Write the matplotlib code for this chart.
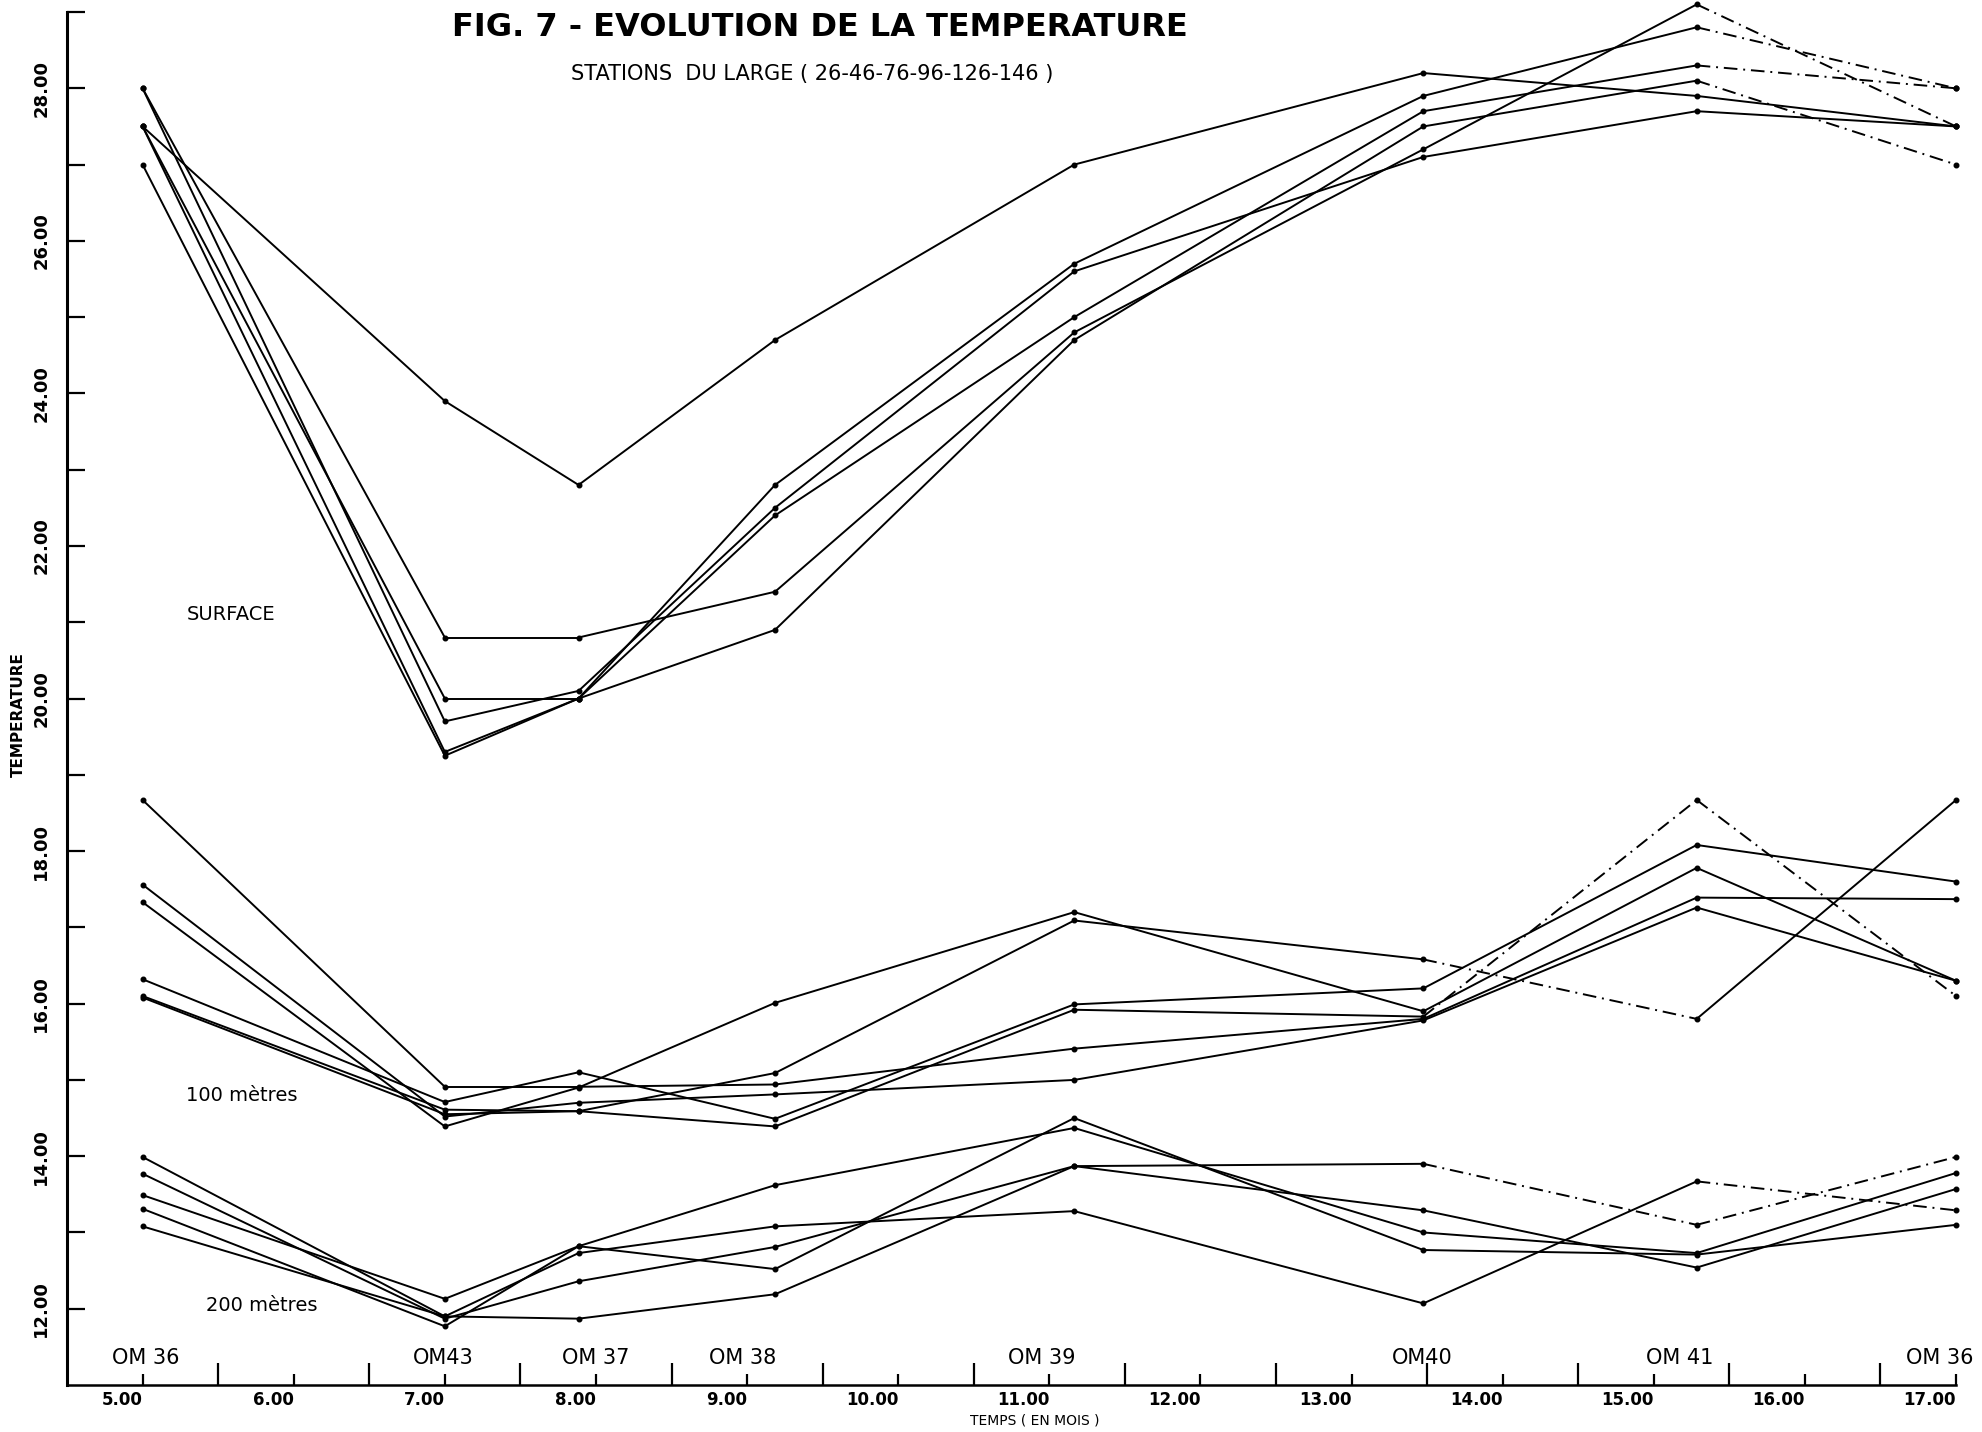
import matplotlib
matplotlib.use("Agg")
import matplotlib.pyplot as plt

# station positions (months) and names
stations = ["OM 36", "OM43", "OM 37", "OM 38", "OM 39", "OM40", "OM 41", "OM 36"]
station_months = [5.0, 7.0, 7.885, 9.185, 11.165, 13.475, 15.284, 17.0]
station_label_x = [5.02, 6.99, 8.0, 8.97, 10.95, 13.47, 15.17, 16.89]

# surface temperatures, one list per station of the open sea
surface_1 = [27.5, 23.9, 22.8, 24.7, 27.0, 28.2, 27.9, 27.5]
surface_2 = [28.0, 20.8, 20.8, 21.4, 24.8, 27.2, 29.1, 27.5]
surface_3 = [27.5, 20.0, 20.0, 22.8, 25.7, 27.9, 28.8, 28.0]
surface_4 = [28.0, 19.7, 20.1, 22.5, 25.6, 27.1, 27.7, 27.5]
surface_5 = [27.5, 19.3, 20.0, 22.4, 25.0, 27.7, 28.3, 28.0]
surface_6 = [27.0, 19.25, 20.0, 20.9, 24.7, 27.5, 28.1, 27.0]

# 100 metres
m100_1 = [18.67, 14.91, 14.91, 14.94, 15.41, 15.80, 17.39, 17.37]
m100_2 = [16.32, 14.71, 15.10, 14.49, 15.99, 16.20, 18.08, 17.60]
m100_3 = [17.33, 14.39, 14.90, 16.01, 17.20, 15.90, 17.78, 16.30]
m100_4 = [17.56, 14.52, 14.70, 14.81, 15.00, 15.78, 17.26, 16.30]
m100_5 = [16.10, 14.61, 14.59, 14.39, 15.92, 15.83, 18.67, 16.10]
m100_6 = [16.08, 14.55, 14.59, 15.09, 17.09, 16.58, 15.80, 18.67]

# 200 metres
m200_1 = [13.49, 12.13, 12.82, 13.62, 14.37, 13.00, 12.73, 13.78]
m200_2 = [13.31, 11.77, 12.82, 12.52, 14.50, 12.77, 12.71, 13.10]
m200_3 = [13.99, 11.90, 12.73, 13.08, 13.28, 12.07, 13.67, 13.29]
m200_4 = [13.77, 11.87, 12.36, 12.81, 13.87, 13.90, 13.10, 13.99]
m200_5 = [13.08, 11.90, 11.87, 12.19, 13.87, 13.29, 12.54, 13.57]

series = [surface_1, surface_2, surface_3, surface_4, surface_5, surface_6,
          m100_1, m100_2, m100_3, m100_4, m100_5, m100_6,
          m200_1, m200_2, m200_3, m200_4, m200_5]

# segments that look broken / dashed on the original tracing: (series index, segment index)
dashed = {(1, 6), (5, 6), (2, 6), (4, 6), (10, 6), (10, 5), (11, 5),
          (14, 6), (15, 6), (15, 5)}

fig = plt.figure(figsize=(19.83, 14.32), dpi=100)
ax = fig.add_axes([0.0338, 0.0328, 0.9526, 0.9588])

for si, ys in enumerate(series):
    for k in range(len(ys) - 1):
        ls = (0, (7, 3, 1, 3)) if (si, k) in dashed else "-"
        ax.plot(station_months[k:k + 2], ys[k:k + 2], color="black", lw=1.4, ls=ls,
                solid_capstyle="round", clip_on=False)
    ax.plot(station_months, ys, ls="none", marker="o", ms=3.3, color="black",
            clip_on=False)

ax.set_xlim(4.5, 17.0)
ax.set_ylim(11.0, 29.0)
for s in ["top", "right"]:
    ax.spines[s].set_visible(False)
ax.spines["left"].set_linewidth(2.2)
ax.spines["bottom"].set_linewidth(1.8)

# x ticks: short at whole months, tall at half months
months = list(range(5, 18))
ax.set_xticks(months)
ax.set_xticklabels(["%.2f" % m for m in months], fontsize=12, ha="right",
                   fontweight="bold")
ax.set_xticks([m + 0.5 for m in months[:-1]], minor=True)
ax.tick_params(axis="x", which="major", direction="in", length=8, width=1.6, pad=4)
ax.tick_params(axis="x", which="minor", direction="in", length=16, width=1.6)

temps = list(range(12, 29, 2))
ax.set_yticks(temps)
ax.set_yticklabels(["%.2f" % t for t in temps], rotation=90, va="center",
                   fontsize=13, fontweight="bold")
ax.set_yticks(list(range(13, 30, 2)), minor=True)
ax.tick_params(axis="y", which="both", direction="in", length=13, width=1.6, pad=12)

for name, xl in zip(stations, station_label_x):
    ax.text(xl, 11.36, name, ha="center", va="center", fontsize=15)

ax.text(5.29, 21.1, "SURFACE", fontsize=14, va="center")
ax.text(5.29, 14.8, "100 mètres", fontsize=14, va="center")
ax.text(5.42, 12.04, "200 mètres", fontsize=14, va="center")

fig.text(820 / 1983, 1 - 28 / 1432, "FIG. 7 - EVOLUTION DE LA TEMPERATURE",
         ha="center", va="center", fontsize=23, fontweight="bold")
fig.text(812 / 1983, 1 - 74 / 1432, "STATIONS  DU LARGE ( 26-46-76-96-126-146 )",
         ha="center", va="center", fontsize=15)
fig.text(18 / 1983, 1 - 715 / 1432, "TEMPERATURE", rotation=90, ha="center",
         va="center", fontsize=11, fontweight="bold")
fig.text(1035 / 1983, 1 - 1420 / 1432, "TEMPS ( EN MOIS )", ha="center",
         va="center", fontsize=10)

fig.savefig("out.png", dpi=100, facecolor="white")
